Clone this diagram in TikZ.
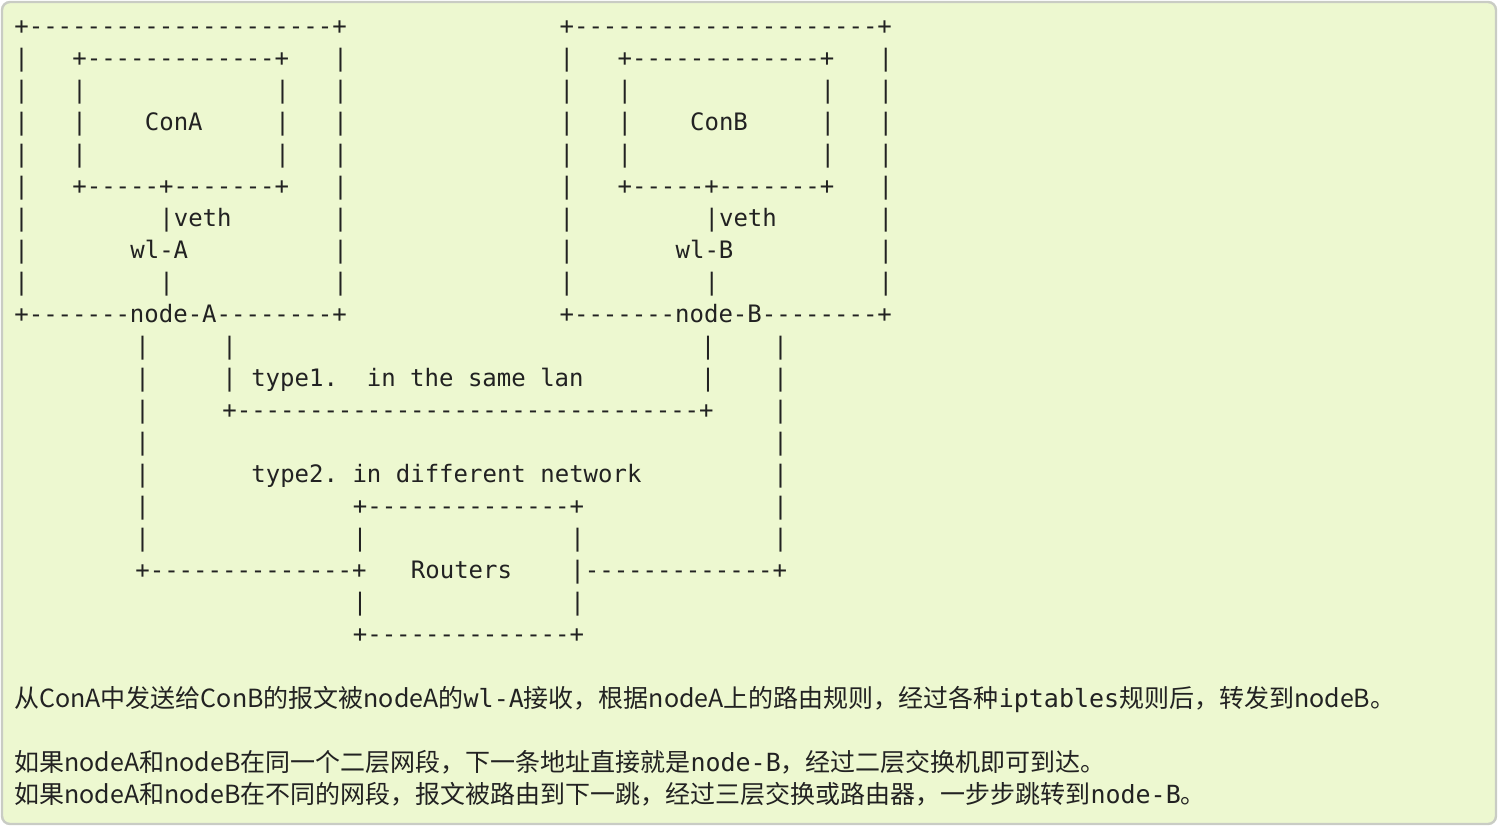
\documentclass[tikz,border=0pt]{standalone}
\usepackage{fontspec}
\setmainfont{Noto Sans CJK SC}
\setmonofont{DejaVu Sans Mono}
\definecolor{notebg}{HTML}{EDF8D0}
\definecolor{noteframe}{HTML}{C9CCC4}
\definecolor{ink}{HTML}{222222}
\begin{document}
\begin{tikzpicture}[x=0.5pt,y=-0.5pt,
    ascii/.style={anchor=base west,inner sep=0pt,text=ink,font=\ttfamily\fontsize{12}{12}\selectfont},
    prose/.style={anchor=base west,inner sep=0pt,text=ink,font=\fontsize{12.5}{13}\selectfont}]
  \def\cw{14.5}
  \def\boxB{37.6}
  \useasboundingbox (0,0) rectangle (1498,826);
  \draw[noteframe,fill=notebg,line width=1.2pt,rounded corners=4pt] (2,2) rectangle (1496,824);

  % container boxes on node-A and node-B
  \foreach \c/\r/\t [count=\n] in {
      0/0/+---------------------+, 0/1/|, 4/1/+-------------+, 22/1/|,
      0/2/|, 4/2/|, 18/2/|, 22/2/|,
      0/3/|, 4/3/|, 9/3/ConA, 18/3/|, 22/3/|,
      0/4/|, 4/4/|, 18/4/|, 22/4/|,
      0/5/|, 4/5/+-----+-------+, 22/5/|,
      0/6/|, 10/6/|veth, 22/6/|,
      0/7/|, 8/7/wl-A, 22/7/|,
      0/8/|, 10/8/|, 22/8/|,
      0/9/+-------node-A--------+}
    \node[ascii] (a\n) at (14+\cw*\c, 34+32*\r) {\t};
  \foreach \c/\r/\t [count=\n] in {
      0/0/+---------------------+, 0/1/|, 4/1/+-------------+, 22/1/|,
      0/2/|, 4/2/|, 18/2/|, 22/2/|,
      0/3/|, 4/3/|, 9/3/ConB, 18/3/|, 22/3/|,
      0/4/|, 4/4/|, 18/4/|, 22/4/|,
      0/5/|, 4/5/+-----+-------+, 22/5/|,
      0/6/|, 10/6/|veth, 22/6/|,
      0/7/|, 8/7/wl-B, 22/7/|,
      0/8/|, 10/8/|, 22/8/|,
      0/9/+-------node-B--------+}
    \node[ascii] (b\n) at (14+\cw*\c+\cw*\boxB, 34+32*\r) {\t};

  % the two ways between the nodes
  \foreach \c/\r/\t [count=\n] in {
      8/10/|, 14/10/|, 47/10/|, 52/10/|,
      8/11/|, 14/11/|~type1.~~in~the~same~lan, 47/11/|, 52/11/|,
      8/12/|, 14/12/+--------------------------------+, 52/12/|,
      8/13/|, 52/13/|,
      8/14/|, 16/14/type2.~in~different~network, 52/14/|,
      8/15/|, 23/15/+--------------+, 52/15/|,
      8/16/|, 23/16/|, 38/16/|, 52/16/|,
      8/17/+--------------+, 27/17/Routers, 38/17/|-------------+,
      23/18/|, 38/18/|,
      23/19/+--------------+}
    \node[ascii] (w\n) at (19+\cw*\c, 34+32*\r) {\t};

  % notes
  \node[prose] (note1) at (14,707) {从ConA中发送给ConB的报文被nodeA的{\ttfamily wl-A}接收，根据nodeA上的路由规则，经过各种{\ttfamily iptables}规则后，转发到nodeB。};
  \node[prose] (note2) at (14,771) {如果nodeA和nodeB在同一个二层网段，下一条地址直接就是{\ttfamily node-B}，经过二层交换机即可到达。};
  \node[prose] (note3) at (14,803) {如果nodeA和nodeB在不同的网段，报文被路由到下一跳，经过三层交换或路由器，一步步跳转到{\ttfamily node-B}。};
\end{tikzpicture}
\end{document}
